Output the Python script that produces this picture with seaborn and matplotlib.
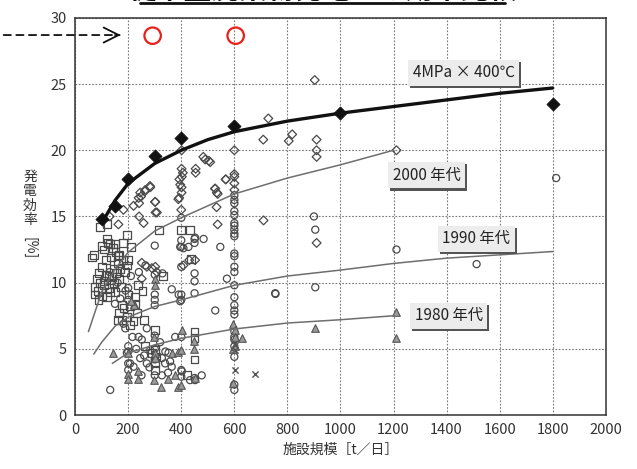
import numpy as np
import pandas as pd
import matplotlib
matplotlib.use("Agg")
import matplotlib.pyplot as plt
import matplotlib.patheffects as pe
from matplotlib.lines import Line2D
import seaborn as sns

sns.set_theme(style="white")
plt.rcParams['font.family'] = ['Noto Sans CJK JP', 'DejaVu Sans']

# ---- trend curves ----
hi_x = [100, 150, 200, 300, 400, 500, 600, 800, 1000, 1200, 1400, 1600, 1800]
hi_y = [14.5, 16.2, 17.5, 19.0, 20.0, 20.8, 21.4, 22.2, 22.8, 23.3, 23.8, 24.3, 24.7]
y2000_x = [50, 100, 150, 200, 300, 400, 600, 800, 1000, 1200]
y2000_y = [6.3, 9.3, 11.0, 12.3, 13.9, 14.9, 16.7, 17.9, 18.9, 20.0]
y1990_x = [70, 100, 150, 200, 300, 400, 600, 800, 1000, 1200, 1400, 1600, 1800]
y1990_y = [4.6, 5.5, 6.7, 7.4, 8.2, 8.7, 9.8, 10.5, 10.95, 11.45, 11.85, 12.1, 12.35]
y1980_x = [140, 200, 300, 400, 600, 800, 1000, 1200]
y1980_y = [3.9, 4.7, 5.3, 5.8, 6.5, 6.95, 7.2, 7.5]

# 4MPa x 400C plants
hp_x = [100, 150, 200, 300, 400, 600, 1000, 1800]
hp_y = [14.8, 15.8, 17.8, 19.6, 20.9, 21.8, 22.8, 23.5]

# ---- scatter of plants ----
sq_x = [92, 120, 195, 211, 317, 432, 435, 330, 63, 72, 119, 130, 141, 152, 165, 108, 116, 101, 91, 82,
        73, 76, 88, 107, 126, 145, 161, 179, 195, 201, 189, 166, 145, 128, 151, 174, 201, 176, 164, 182,
        160, 176, 195, 207, 220, 233, 224, 207, 236, 226, 254, 302, 450, 264, 302, 289, 304, 302, 302, 258,
        95, 110, 130, 85, 100, 120, 140, 155, 170, 115, 135, 150, 100, 125, 180, 160, 400, 420, 450, 450]
sq_y = [14.2, 14.4, 13.6, 12.7, 14.0, 14.0, 11.8, 10.5, 11.9, 12.1, 13.3, 12.9, 12.6, 12.3, 12.1, 12.5, 11.7, 11.2, 10.7, 10.3,
        9.7, 9.1, 8.7, 10.1, 10.5, 11.0, 11.5, 11.7, 11.3, 11.7, 10.8, 10.3, 9.95, 9.6, 9.3, 9.7, 9.1, 8.3, 7.7, 8.1,
        7.2, 7.2, 7.4, 6.8, 7.1, 7.7, 8.4, 8.2, 9.8, 8.9, 9.4, 6.4, 6.3, 5.2, 4.9, 4.7, 4.4, 3.9, 3.4, 7.2,
        10.0, 9.8, 9.3, 9.4, 9.0, 8.9, 10.4, 10.7, 11.0, 10.6, 11.9, 12.9, 12.8, 13.0, 13.0, 12.0, 14.0, 3.0, 5.8, 4.2]

ci_x = [600] * 26 + [400] * 9 + [450] * 6 + [300] * 8 + [200] * 6 + [
        452, 484, 547, 396, 408, 427, 329, 364, 390, 396, 528, 572, 754, 182, 189, 216, 239, 251, 270, 377,
        207, 220, 245, 270, 327, 339, 352, 358, 364, 327, 402, 433, 452, 477, 132, 195, 283, 905, 905, 755,
        1211, 1513, 1813, 250, 230, 260, 320, 340, 300, 350, 280, 150, 170, 190, 210, 240, 265, 130, 160, 900]
ci_y = [16.6, 16.25, 16.0, 15.4, 15.1, 14.5, 14.3, 14.0, 13.7, 13.5, 12.2, 12.0, 11.2, 10.8, 9.8, 8.9,
        8.3, 7.9, 7.6, 6.3, 5.9, 5.7, 5.2, 4.4, 2.3, 1.9,
        14.9, 13.2, 12.7, 9.1, 8.7, 5.9, 3.4, 2.9, 11.2,
        13.3, 13.0, 10.7, 10.1, 9.2, 2.8,
        12.8, 9.1, 8.7, 8.3, 10.6, 5.0, 4.2, 3.0,
        5.2, 4.8, 3.9, 3.4, 9.6, 8.7,
        13.4, 13.3, 12.7, 12.7, 12.6, 12.7, 10.7, 9.5, 9.1, 8.6, 7.9, 10.3, 9.2, 6.9, 6.55, 5.9, 5.9, 5.7, 6.55, 5.9,
        3.9, 3.65, 4.3, 3.9, 4.3, 3.9, 4.7, 4.05, 3.65, 3.0, 3.3, 2.64, 2.64, 3.0, 1.9, 4.7, 4.9, 14.0, 9.65, 9.15,
        12.5, 11.4, 17.9, 3.0, 5.0, 4.5, 5.5, 4.8, 6.0, 3.2, 3.6, 8.4, 8.8, 9.4, 10.5, 10.8, 11.3, 10.8, 10.0, 15.0]

di_x = [182, 163, 251, 270, 289, 302, 308, 251, 408, 452, 239, 245, 264, 283, 302, 308, 241, 258, 490, 509,
        528, 534, 537, 568, 600, 600, 710, 392, 396, 402, 406, 483, 504, 401, 454, 454, 401, 393, 567, 600,
        401, 401, 389, 527, 537, 282, 263, 248, 241, 301, 303, 533, 709, 728, 805, 818, 910, 910, 910, 1211,
        903, 600, 400, 910, 600, 430, 220, 130]
di_y = [15.5, 14.4, 11.5, 11.2, 11.1, 11.2, 10.8, 10.3, 11.3, 11.7, 16.4, 16.8, 17.0, 17.2, 16.1, 15.3, 15.0, 14.5, 19.3, 19.1,
        17.1, 16.8, 14.4, 17.8, 18.0, 17.5, 14.7, 16.4, 17.4, 18.0, 18.3, 19.5, 19.2, 18.6, 18.6, 18.3, 20.0, 17.8, 17.8, 18.2,
        17.2, 16.8, 16.3, 17.1, 16.7, 17.3, 16.9, 16.5, 16.0, 16.1, 15.3, 15.7, 20.8, 22.4, 20.7, 21.2, 20.8, 20.0, 19.5, 20.0,
        25.3, 20.0, 15.5, 13.0, 17.0, 11.7, 15.8, 15.0]

tr_x = [144, 201, 201, 201, 238, 238, 297, 297, 322, 351, 376, 364, 389, 389, 401, 449, 449, 596, 596, 596,
        630, 222, 302, 302, 302, 220, 211, 452, 603, 603, 603, 904, 1211, 1211, 400, 400, 300]
tr_y = [4.66, 4.66, 3.1, 2.7, 3.3, 2.7, 5.9, 2.65, 2.1, 2.7, 3.0, 4.66, 4.8, 2.1, 6.4, 5.6, 5.0, 6.9, 5.0, 2.4,
        5.8, 8.4, 4.7, 4.3, 10.3, 8.3, 8.6, 2.8, 6.4, 5.9, 5.2, 6.55, 7.8, 5.8, 2.3, 4.9, 9.8]

xx_x = [603, 678, 603, 603]
xx_y = [3.4, 3.1, 4.9, 5.3]

curve_labels = ["4MPa × 400℃", "2000 年代", "1990 年代", "1980 年代"]
label_x = [1465, 1325, 1512, 1408]
label_y = [25.85, 18.1, 13.3, 7.5]

mark_x = [292, 605]
mark_y = [28.65, 28.65]

fig = plt.figure(figsize=(6.37, 4.69), dpi=100)
ax = fig.add_axes([0.118, 0.115, 0.833, 0.847])

open_kw = dict(facecolor='none', edgecolor='#4a4a4a', linewidth=0.9, ax=ax, zorder=3, legend=False)
sns.scatterplot(x=sq_x, y=sq_y, marker='s', s=32, **open_kw)
sns.scatterplot(x=ci_x, y=ci_y, marker='o', s=26, **open_kw)
sns.scatterplot(x=di_x, y=di_y, marker='D', s=20, **open_kw)
sns.scatterplot(x=tr_x, y=tr_y, marker='^', s=30, facecolor='#9a9a9a', edgecolor='#555555',
                linewidth=0.8, ax=ax, zorder=3, legend=False)
sns.scatterplot(x=xx_x, y=xx_y, marker='x', s=20, color='#555555', linewidth=1.0, ax=ax, zorder=3, legend=False)

for cx, cy in [(y2000_x, y2000_y), (y1990_x, y1990_y), (y1980_x, y1980_y)]:
    sns.lineplot(x=cx, y=cy, color='#6e6e6e', linewidth=1.1, ax=ax, zorder=4)
sns.lineplot(x=hi_x, y=hi_y, color='#111111', linewidth=2.4, ax=ax, zorder=5)
sns.scatterplot(x=hp_x, y=hp_y, marker='D', s=45, color='#111111', edgecolor='#111111',
                ax=ax, zorder=6, legend=False)

for t, lx, ly in zip(curve_labels, label_x, label_y):
    txt = ax.text(lx, ly, t, ha='center', va='center', fontsize=11, color='#222222', zorder=7,
                  bbox=dict(boxstyle='square,pad=0.3', fc='#ececec', ec='none'))
    txt.get_bbox_patch().set_path_effects([pe.withSimplePatchShadow(offset=(1.5, -1.5),
                                                                    shadow_rgbFace='#555555', alpha=1), pe.Normal()])

ax.set_xlim(0, 2000)
ax.set_ylim(0, 30)
ax.set_xticks(range(0, 2001, 200))
ax.set_yticks(range(0, 31, 5))
ax.grid(True, linestyle=(0, (1.5, 1.5)), color='#777777', linewidth=0.8)
ax.tick_params(labelsize=10.5, colors='#333333', length=0, pad=6)
for s in ax.spines.values():
    s.set_color('#333333')
    s.set_linewidth(1.1)

ax.set_xlabel("施設規模［t／日］", fontsize=10, color='#333333', labelpad=4)
ax.text(-0.085, 0.545, "発\n電\n効\n率", transform=ax.transAxes, ha='center', va='center',
        fontsize=10, color='#333333', linespacing=1.05)
ax.text(-0.085, 0.42, "[%]", transform=ax.transAxes, rotation=-90, ha='center', va='center',
        fontsize=10, color='#333333')

# red markers and dashed arrow at top left
ax.scatter(mark_x, mark_y, s=140, facecolor='none', edgecolor='#e8201a', linewidth=1.6, clip_on=False, zorder=8)
ax.annotate('', xy=(178, 28.7), xytext=(-280, 28.7), annotation_clip=False,
            arrowprops=dict(arrowstyle='-', linestyle=(0, (4, 3)), lw=1.3, color='#111111'))
ax.annotate('', xy=(182, 28.7), xytext=(140, 28.7), annotation_clip=False,
            arrowprops=dict(arrowstyle='->,head_length=0.9,head_width=0.45', lw=1.3, color='#111111'))

# title, cut off by the top edge as in the scan
fig.text(0.506, 1 + 1 / 469, "従来型廃棄物発電との効率比較", ha='center', va='baseline',
         fontsize=20, fontweight='bold', color='#111111')
fig.add_artist(Line2D([140 / 637, 505 / 637], [1 - 3.5 / 469] * 2, lw=2, color='#111111'))

fig.savefig("out.png", dpi=100)
